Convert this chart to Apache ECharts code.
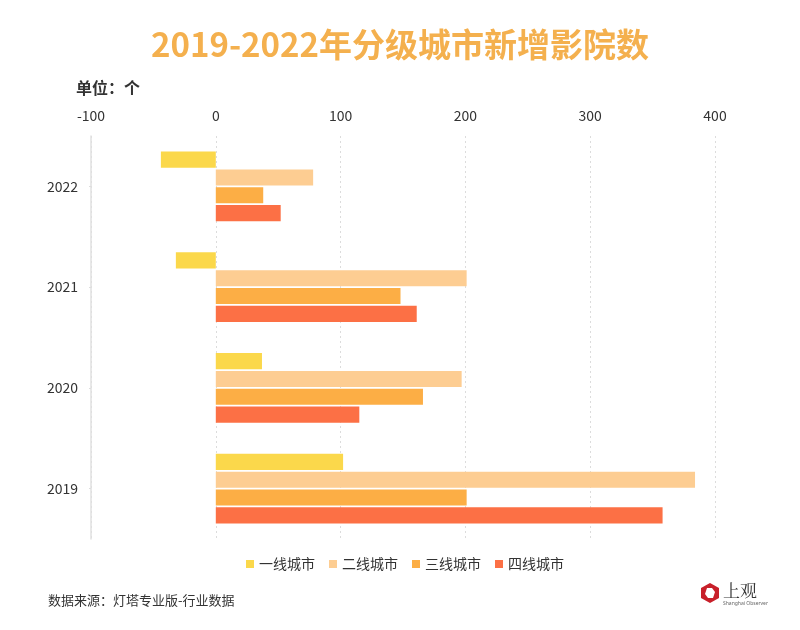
<!DOCTYPE html>
<html>
<head>
<meta charset="utf-8">
<script src="https://cdn.jsdelivr.net/npm/echarts@6/dist/echarts.min.js"></script>
<style>html,body{margin:0;padding:0;background:#fff;}#main{width:800px;height:630px;}</style>
</head>
<body>
<div id="main"></div>
<script>
const years = ['2022', '2021', '2020', '2019'];
const seriesNames = ['一线城市', '二线城市', '三线城市', '四线城市'];
const tier1 = [-44, -32, 37, 102];
const tier2 = [78, 201, 197, 384];
const tier3 = [38, 148, 166, 201];
const tier4 = [52, 161, 115, 358];
const xTicks = [-100, 0, 100, 200, 300, 400];
const colors = ['#FBD84B', '#FDCD92', '#FCAE45', '#FC7045'];

const chart = echarts.init(document.getElementById('main'));
const font = '"Noto Sans CJK SC", "Noto Sans", sans-serif';
const values = [tier1, tier2, tier3, tier4];

chart.setOption({
  backgroundColor: '#fff',
  animation: false,
  color: colors,
  title: {
    text: '2019-2022年分级城市新增影院数',
    left: 'center',
    top: 23,
    textStyle: { fontFamily: font, fontSize: 33, fontWeight: 'bold', color: '#F4B04E' }
  },
  legend: {
    data: seriesNames,
    left: 241,
    top: 552,
    icon: 'rect',
    itemWidth: 8,
    itemHeight: 8,
    itemGap: 14,
    textStyle: { fontFamily: font, fontSize: 14, color: '#333' }
  },
  grid: { left: 91, right: 85, top: 136, bottom: 91, containLabel: false },
  xAxis: {
    type: 'value',
    position: 'top',
    min: xTicks[0],
    max: xTicks[xTicks.length - 1],
    interval: 100,
    axisLine: { show: false },
    axisTick: { show: false },
    axisLabel: { margin: 13, fontFamily: font, fontSize: 14, color: '#333' },
    splitLine: { show: true, lineStyle: { color: '#dcdcdc', width: 1, type: [2, 3] } }
  },
  yAxis: {
    type: 'category',
    data: years,
    inverse: true,
    axisLine: { show: true, onZero: false, lineStyle: { color: '#e0e0e0', width: 1.5 } },
    axisTick: { show: true, length: 2, alignWithLabel: true, lineStyle: { color: '#ddd' } },
    axisLabel: { margin: 13, fontFamily: font, fontSize: 14, color: '#333' }
  },
  series: seriesNames.map((n, i) => ({
    name: n,
    type: 'bar',
    data: values[i],
    barGap: '10%',
    barCategoryGap: '31%',
    itemStyle: { color: colors[i] }
  })),
  graphic: [
    {
      type: 'text', left: 76, top: 80,
      style: { text: '单位：个', font: 'bold 16px ' + font, fill: '#333' }
    },
    {
      type: 'text', left: 48, top: 594,
      style: { text: '数据来源：灯塔专业版-行业数据', font: '13px ' + font, fill: '#333' }
    },
    {
      type: 'polygon',
      shape: { points: [[710, 583], [719, 588], [719, 598], [710, 603], [701, 598], [701, 588]] },
      style: { fill: '#C8202A' }
    },
    {
      type: 'polygon',
      shape: { points: [[712, 588], [715, 592], [713, 598], [708, 598], [705, 594], [707, 588]] },
      style: { fill: '#fff' }
    },
    {
      type: 'text', left: 723, top: 582,
      style: { text: '上观', font: '17px "Noto Serif CJK SC", "Noto Sans CJK SC", serif', fill: '#333' }
    },
    {
      type: 'text', left: 723, top: 601,
      style: { text: 'Shanghai Observer', font: '5px "Noto Sans", sans-serif', fill: '#666' }
    }
  ]
});
</script>
</body>
</html>
